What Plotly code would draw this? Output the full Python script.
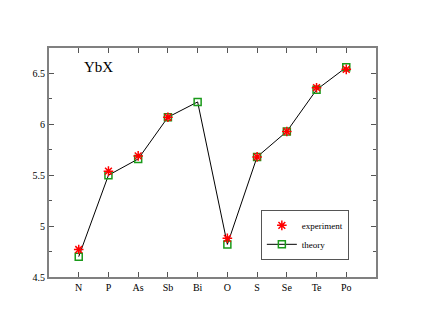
import plotly.graph_objects as go

elements = ["N", "P", "As", "Sb", "Bi", "O", "S", "Se", "Te", "Po"]
theory = [4.70, 5.50, 5.66, 6.07, 6.22, 4.82, 5.68, 5.93, 6.34, 6.56]
experiment = [4.77, 5.54, 5.69, 6.07, None, 4.88, 5.68, 5.93, 6.36, 6.54]

serif = "Liberation Serif"

fig = go.Figure()
fig.add_trace(go.Scatter(
    x=elements, y=theory, mode="lines+markers", name="theory",
    line=dict(color="black", width=1),
    marker=dict(symbol="square-open", color="#1a9a1a", size=7, line=dict(width=1.5)),
))
fig.add_trace(go.Scatter(
    x=elements, y=experiment, mode="markers", name="experiment",
    marker=dict(symbol="asterisk-open", color="red", size=8, line=dict(color="red", width=1.5)),
))

axis_style = dict(
    showline=True, linecolor="#808080", linewidth=2, mirror="allticks",
    ticks="inside", ticklen=5, tickcolor="#555555", showgrid=False, zeroline=False,
    tickfont=dict(family=serif, size=10, color="black"),
)
fig.update_xaxes(range=[-1, 10], **axis_style)
fig.update_yaxes(range=[4.5, 6.75], tickvals=[4.5, 5, 5.5, 6, 6.5], ticktext=["4.5", "5", "5.5", "6", "6.5"],
                 minor=dict(ticks="inside", ticklen=3, tickcolor="#555555", dtick=0.25, tick0=4.5),
                 **axis_style)

fig.add_annotation(text="YbX", xref="paper", yref="paper", x=0.1, y=0.915,
                   xanchor="left", yanchor="middle", showarrow=False,
                   font=dict(family=serif, size=15, color="black"))

# page body has an 8px margin, so the margins are shifted to compensate
fig.update_layout(
    width=423, height=327,
    margin=dict(l=41, r=55, t=40, b=58),
    plot_bgcolor="white", paper_bgcolor="white",
    legend=dict(x=0.917, y=0.075, xanchor="right", yanchor="bottom",
                traceorder="reversed", bordercolor="#555555", borderwidth=1,
                bgcolor="white", font=dict(family=serif, size=9, color="black"),
                itemwidth=30, tracegroupgap=0),
)

fig.write_html("out.html")
